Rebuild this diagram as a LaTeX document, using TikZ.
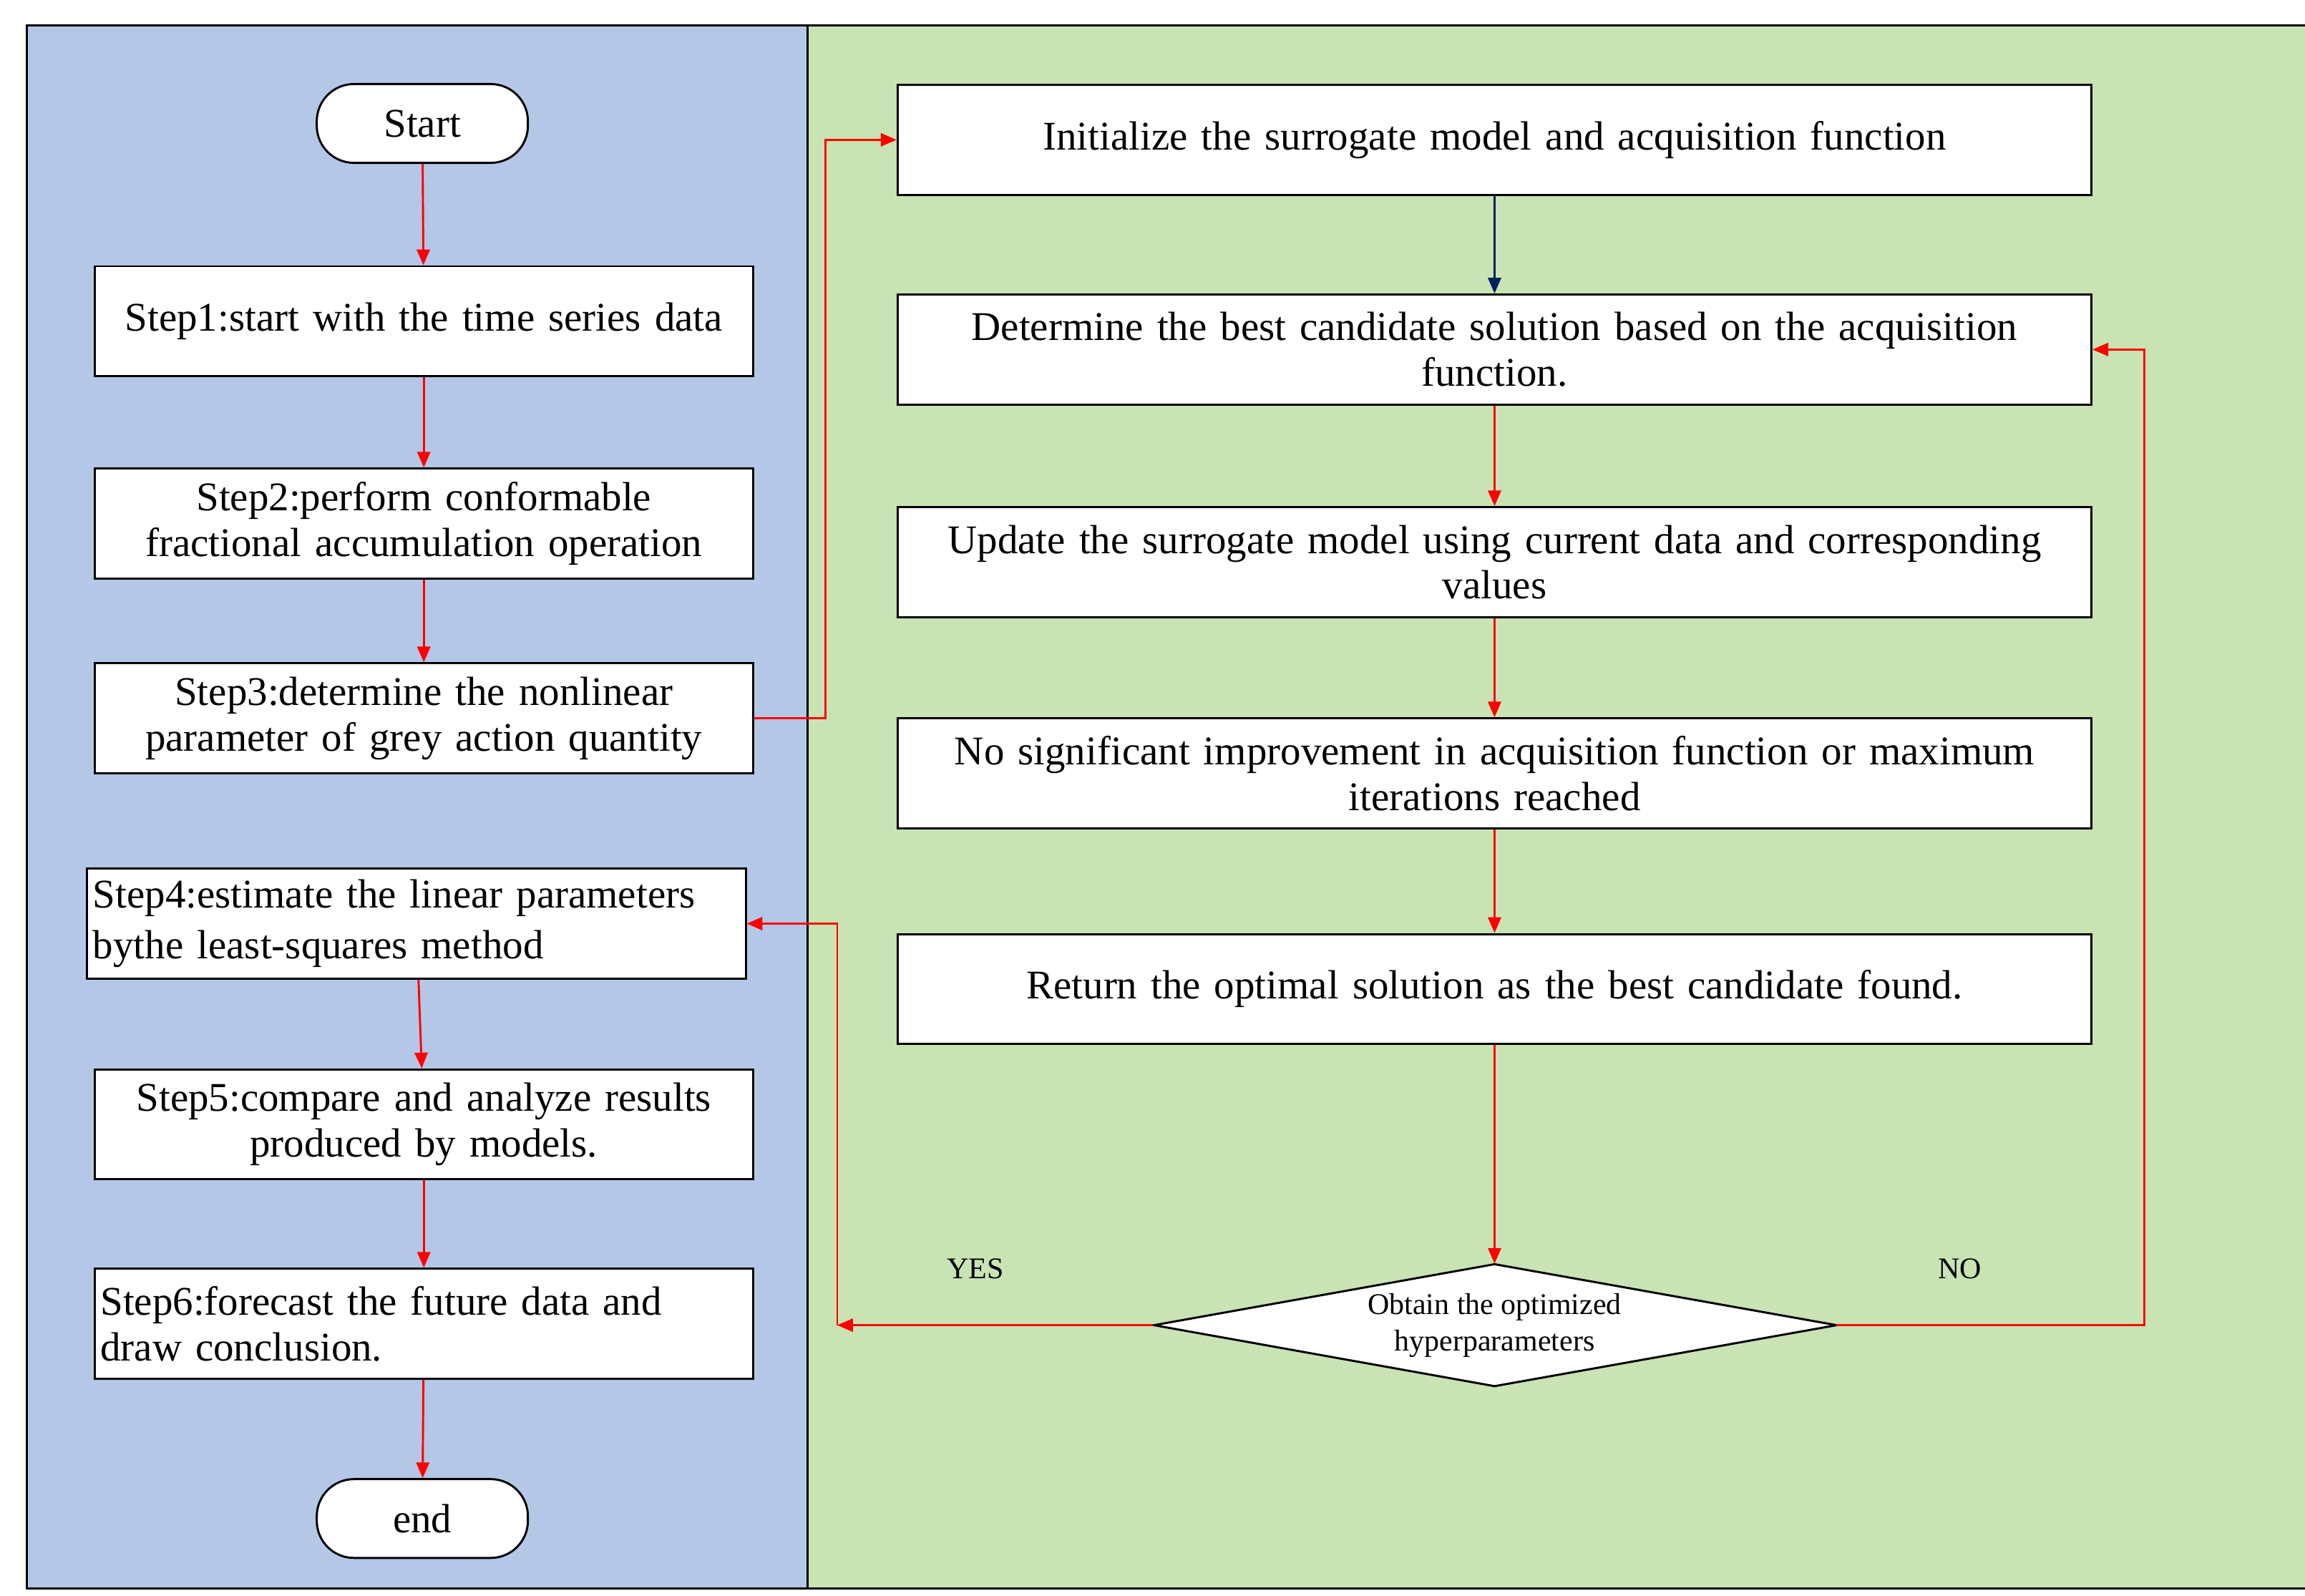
\documentclass[tikz,border=0pt]{standalone}
\usepackage{fontspec}
\setmainfont{Liberation Serif}
\usetikzlibrary{shapes.geometric,arrows.meta}
\definecolor{bluebg}{RGB}{180,199,231}
\definecolor{greenbg}{RGB}{201,227,180}
\definecolor{navy}{RGB}{0,32,96}
\begin{document}
\begin{tikzpicture}[x=0.02cm,y=-0.02cm,
  box/.style={draw,thick,fill=white,minimum height=1.48cm,align=center,inner sep=2pt,font=\fontsize{15.6}{17.5}\selectfont},
  lbox/.style={box,minimum width=8.86cm,text width=8.7cm},
  rbox/.style={box,minimum width=16.06cm,text width=15.4cm},
  term/.style={draw,thick,fill=white,rounded corners=0.5cm,minimum width=2.84cm,minimum height=1.06cm,font=\fontsize{15.6}{17.5}\selectfont},
  arr/.style={red,thick,-{Triangle[width=5pt,length=6pt]}},
  lab/.style={font=\fontsize{11.5}{13}\selectfont}]
\useasboundingbox (0,0) rectangle (1550,1073);
\fill[bluebg] (18,17) rectangle (543,1068);
\fill[greenbg] (543,17) rectangle (1550,1068);
\draw[thick] (1550,17) -- (18,17) -- (18,1068) -- (1550,1068);
\draw[thick] (543,17) -- (543,1068);
% left
\node[term] (start) at (284,83) {Start};
\node[lbox] (s1) at (285,216) {Step1:start with the time series data};
\node[lbox] (s2) at (285,352) {Step2:perform conformable\\fractional accumulation operation};
\node[lbox] (s3) at (285,483) {Step3:determine the nonlinear\\parameter of grey action quantity};
\node[lbox,align=left] (s4) at (280,621) {Step4:estimate the linear parameters\\[2pt]bythe least-squares method};
\node[lbox] (s5) at (285,756) {Step5:compare and analyze results\\produced by models.};
\node[lbox,align=left] (s6) at (285,890) {Step6:forecast the future data and\\draw conclusion.};
\node[term] (end) at (284,1021) {end};
% right
\node[rbox] (r1) at (1005,94) {Initialize the surrogate model and acquisition function};
\node[rbox] (r2) at (1005,235) {Determine the best candidate solution based on the acquisition\\function.};
\node[rbox] (r3) at (1005,378) {Update the surrogate model using current data and corresponding\\values};
\node[rbox] (r4) at (1005,520) {No significant improvement in acquisition function or maximum\\iterations reached};
\node[rbox] (r5) at (1005,665) {Return the optimal solution as the best candidate found.};
\draw[thick,fill=white] (776,891) -- (1005,850) -- (1235,891) -- (1005,932) -- cycle;
\node[align=center,inner sep=0pt,font=\fontsize{11.5}{14}\selectfont,minimum width=9.18cm,minimum height=1.64cm] (d) at (1005,891) {Obtain the optimized\\hyperparameters};
% arrows
\draw[arr] (start) -- (s1);
\draw[arr] (s1) -- (s2);
\draw[arr] (s2) -- (s3);
\draw[arr] (s4) -- (s5);
\draw[arr] (s5) -- (s6);
\draw[arr] (s6) -- (end);
\draw[arr] (s3.east) -- (555,483) |- (r1.west);
\draw[navy,thick,-{Triangle[width=5pt,length=6pt]}] (r1) -- (r2);
\draw[arr] (r2) -- (r3);
\draw[arr] (r3) -- (r4);
\draw[arr] (r4) -- (r5);
\draw[arr] (r5) -- (d.north);
\draw[arr] (d.east) -- (1442,891) |- (r2.east);
\coordinate (c) at (563,891);
\draw[arr] (d.west) -- (c);
\draw[arr] (c) |- (s4.east);
\node[lab] at (656,853) {YES};
\node[lab] at (1318,853) {NO};
\end{tikzpicture}
\end{document}
